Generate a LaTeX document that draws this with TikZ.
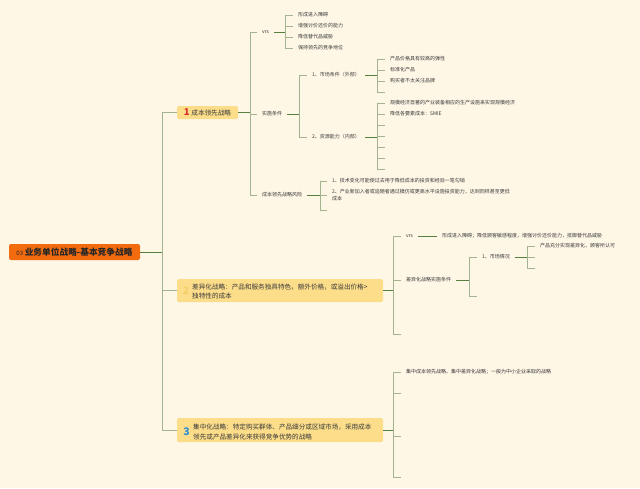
\documentclass[tikz,border=0pt]{standalone}
\usepackage{fontspec}
\setmainfont{Noto Sans CJK SC}
\definecolor{bgc}{HTML}{FEF7E6}
\definecolor{rootc}{HTML}{F26B0F}
\definecolor{boxc}{HTML}{FCDD8A}
\definecolor{onec}{HTML}{E0302A}
\definecolor{twoc}{HTML}{F4CF68}
\definecolor{threec}{HTML}{2B8ED8}
\definecolor{txtc}{HTML}{3A3A3A}
\definecolor{brc}{HTML}{A3B38F}
\definecolor{pc}{HTML}{55803F}
\begin{document}
\begin{tikzpicture}[x=1pt,y=-1pt,
  txt/.style={anchor=west, inner xsep=5pt, inner ysep=1pt, font=\fontsize{5}{7}\selectfont, text=txtc},
  bline/.style={draw=brc, line width=0.6pt},
  pline/.style={draw=pc, line width=0.7pt},
  box/.style={fill=boxc, rounded corners=1.5pt, inner sep=0pt},
  boxtxt/.style={anchor=west, inner sep=0pt, align=left, font=\fontsize{6.6}{9.8}\selectfont, text=txtc}
]
\fill[bgc] (0,0) rectangle (640,488);
\useasboundingbox (0,0) rectangle (640,488);

% root
\node[fill=rootc, rounded corners=2pt, minimum width=131pt, minimum height=16pt, inner sep=0pt, text=black!85] (root) at (74.5,252)
  {{\fontsize{6}{6}\selectfont 03}\,{\fontsize{8.7}{9}\selectfont\bfseries 业务单位战略-基本竞争战略}};

% main branches
\node[box, minimum width=61pt, minimum height=13pt] (b1) at (207.5,112.5)
  {{\fontsize{9.5}{9}\selectfont\bfseries\color{onec}1}\,{\fontsize{6.6}{7}\selectfont\color{txtc}成本领先战略}};
\node[box, minimum width=206pt, minimum height=23pt] (b2) at (280,290.5) {};
\node[inner sep=0pt, font=\fontsize{10}{10}\selectfont\bfseries, text=twoc] (b2n) at (186,291) {2};
\node[boxtxt] (b2t) at (192,291.5) {差异化战略：产品和服务独具特色，额外价格，或溢出价格>\\独特性的成本};
\node[box, minimum width=206pt, minimum height=24pt] (b3) at (280,430) {};
\node[inner sep=0pt, font=\fontsize{10.5}{10}\selectfont\bfseries, text=threec] (b3n) at (186.5,432) {3};
\node[boxtxt] (b3t) at (193,432) {集中化战略：特定购买群体、产品细分或区域市场，采用成本\\领先或产品差异化来获得竞争优势的战略};

\coordinate (T) at (162,0);
\draw[pline] (root.east) -- (root.east -| T);
\foreach \c in {b1,b2,b3} \draw[bline] (root.east -| T) |- (\c.west);

% ===== branch 1 =====
\coordinate (X1) at (250,0);
\node[txt] (v1) at (257,32) {vrs};
\node[txt] (s1) at (257,114) {实施条件};
\node[txt] (r1) at (257,195) {成本领先战略风险};
\draw[pline] (b1.east) -- (b1.east -| X1);
\foreach \c in {v1,s1,r1} \draw[bline] (b1.east -| X1) |- (\c.west);

% vrs children
\coordinate (X2) at (285,0);
\node[txt] (v1a) at (293,15) {形成进入障碍};
\node[txt] (v1b) at (293,26) {增强讨价还价的能力};
\node[txt] (v1c) at (293,37) {降低替代品威胁};
\node[txt] (v1d) at (293,48) {保持领先的竞争地位};
\draw[pline] (v1.east) -- (v1.east -| X2);
\foreach \c in {v1a,v1b,v1c,v1d} \draw[bline] (v1.east -| X2) |- (\c.west);

% 实施条件 children
\coordinate (X3) at (299,0);
\node[txt] (m1) at (307,75) {1、市场条件（外部）};
\node[txt] (m2) at (307,137) {2、资源能力（内部）};
\draw[pline] (s1.east) -- (s1.east -| X3);
\foreach \c in {m1,m2} \draw[bline] (s1.east -| X3) |- (\c.west);

% 市场条件 children
\coordinate (X4) at (377,0);
\node[txt] (m1a) at (385,59) {产品价格具有较高的弹性};
\node[txt] (m1b) at (385,70) {标准化产品};
\node[txt] (m1c) at (385,81) {购买者不太关注品牌};
\coordinate (m1d) at (385,92);
\draw[pline] (m1.east) -- (m1.east -| X4);
\foreach \c in {m1a,m1b,m1c,m1d} \draw[bline] (m1.east -| X4) |- (\c.west);

% 资源能力 children
\node[txt] (m2a) at (385,103) {规模经济显著的产业装备相应的生产设施来实现规模经济};
\node[txt] (m2b) at (385,114) {降低各要素成本：SMIE};
\coordinate (m2c) at (385,125);
\coordinate (m2d) at (385,136);
\coordinate (m2e) at (385,147);
\coordinate (m2f) at (385,158);
\coordinate (m2g) at (385,169);
\draw[pline] (m2.east) -- (m2.east -| X4);
\foreach \c in {m2a,m2b,m2c,m2d,m2e,m2f,m2g} \draw[bline] (m2.east -| X4) |- (\c.west);

% 风险 children
\coordinate (X5) at (320,0);
\node[txt] (r1a) at (327,181) {1、技术变化可能使过去用于降低成本的投资和经验一笔勾销};
\node[txt, align=left] (r1b) at (327,195.5) {2、产业新加入者或追随者通过模仿或更高水平设施投资能力，达到同样甚至更低\\成本};
\coordinate (r1c) at (327,210);
\draw[pline] (r1.east) -- (r1.east -| X5);
\foreach \c in {r1a,r1b,r1c} \draw[bline] (r1.east -| X5) |- (\c.west);

% ===== branch 2 =====
\coordinate (X6) at (393,0);
\node[txt] (v2) at (401,236) {vrs};
\node[txt] (s2) at (401,280) {差异化战略实施条件};
\coordinate (e2) at (401,334);
\draw[pline] (b2.east) -- (b2.east -| X6);
\foreach \c in {v2,s2,e2} \draw[bline] (b2.east -| X6) |- (\c.west);

\node[txt] (v2a) at (437,236) {形成进入障碍；降低顾客敏感程度，增强讨价还价能力，抵御替代品威胁};
\draw[pline] (v2.east) -- (v2a.west);

\coordinate (X7) at (469,0);
\node[txt] (k1) at (477,257) {1、市场情况};
\coordinate (k2) at (477,296);
\draw[pline] (s2.east) -- (s2.east -| X7);
\foreach \c in {k1,k2} \draw[bline] (s2.east -| X7) |- (\c.west);

\coordinate (X8) at (527,0);
\node[txt] (k1a) at (535,246) {产品充分实现差异化，顾客所认可};
\coordinate (k1b) at (535,257);
\coordinate (k1c) at (535,268);
\draw[pline] (k1.east) -- (k1.east -| X8);
\foreach \c in {k1a,k1b,k1c} \draw[bline] (k1.east -| X8) |- (\c.west);

% ===== branch 3 =====
\node[txt] (c3a) at (401,372) {集中成本领先战略、集中差异化战略；一般为中小企业采取的战略};
\coordinate (c3b) at (401,393);
\coordinate (c3c) at (401,436);
\coordinate (c3d) at (401,477);
\draw[pline] (b3.east) -- (b3.east -| X6);
\foreach \c in {c3a,c3b,c3c,c3d} \draw[bline] (b3.east -| X6) |- (\c.west);
\end{tikzpicture}
\end{document}
